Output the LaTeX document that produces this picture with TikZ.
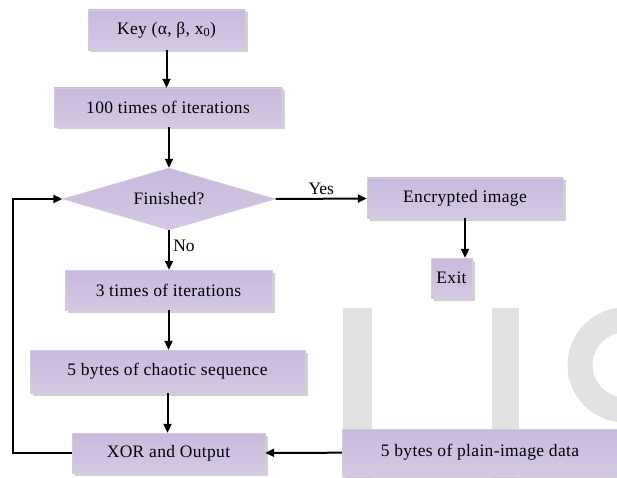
\documentclass[tikz,border=0pt]{standalone}
\usepackage{fontspec}
\setmainfont{Liberation Serif}
\usetikzlibrary{shapes.geometric,shadows,arrows.meta}
\definecolor{boxtop}{RGB}{200,186,220}
\definecolor{boxmid}{RGB}{246,244,250}
\definecolor{boxbot}{RGB}{212,200,228}
\definecolor{boxline}{RGB}{210,204,220}
\definecolor{markgray}{RGB}{226,226,226}
\tikzset{
	box/.style={draw=boxline, thin, top color=boxtop, middle color=boxmid, bottom color=boxbot,
		drop shadow={shadow xshift=2.5pt, shadow yshift=-2.5pt, fill=black!30, opacity=0.6},
		inner sep=0pt, font=\fontsize{17.5}{20}\selectfont\addfontfeature{LetterSpace=2}},
	flow/.style={line width=2pt, -{Triangle[length=9pt,width=8pt]}},
}
\begin{document}
\begin{tikzpicture}[x=1pt, y=-1pt]
	\useasboundingbox (0,0) rectangle (617,478);
	% watermark
	\begin{scope}
		\clip (0,0) rectangle (617,478);
		\fill[markgray] (343,308) rectangle (372,480);
		\fill[markgray] (492,308) rectangle (519,480);
		\draw[markgray, line width=25pt] (625,365) ++(85:45) arc (85:265:45);
	\end{scope}

	\node[box, minimum width=157pt, minimum height=40pt] (key) at (166.5,30) {Key (α, β, x\textsubscript{0})};
	\node[box, minimum width=228pt, minimum height=39pt] (iter) at (168,107.5) {100 times of iterations};
	\node[diamond, draw=boxline, thin, top color=boxtop, middle color=boxmid, bottom color=boxbot,
		minimum width=213pt, minimum height=62pt, inner sep=0pt, aspect=3.4,
		font=\fontsize{17.5}{20}\selectfont\addfontfeature{LetterSpace=2}] (fin) at (169,199) {Finished?};
	\node[box, minimum width=196pt, minimum height=40pt] (enc) at (465,198) {Encrypted image};
	\node[box, minimum width=41pt, minimum height=40pt] (exit) at (451.5,278) {Exit};
	\node[box, minimum width=207pt, minimum height=40pt] (three) at (168.5,290) {3 times of iterations};
	\node[box, minimum width=275pt, minimum height=43pt] (chaos) at (167.5,371.5) {5 bytes of chaotic sequence};
	\node[box, minimum width=193pt, minimum height=40pt] (xor) at (168.5,453) {XOR and Output};
	\node[box, minimum width=276pt, minimum height=47pt] (plain) at (480,452.5) {5 bytes of plain-image data};
	\coordinate (loop) at (13,453);

	\draw[flow] (key) -- (key |- iter.north);
	\draw[flow] (fin |- iter.south) -- (fin.north);
	\draw[flow] (fin.east) -- node[above, font=\fontsize{17.5}{20}\selectfont] {Yes} (enc);
	\draw[flow] (enc) -- (enc |- exit.north);
	\draw[flow] (fin.south) -- node[right, pos=0.4, font=\fontsize{17.5}{20}\selectfont] {No} (fin.south |- three.north);
	\draw[flow] (three) -- (three |- chaos.north);
	\draw[flow] (chaos) -- (chaos |- xor.north);
	\draw[flow] (plain) -- (xor);
	\draw[flow] (xor) -- (loop) |- (fin.west);
\end{tikzpicture}
\end{document}
